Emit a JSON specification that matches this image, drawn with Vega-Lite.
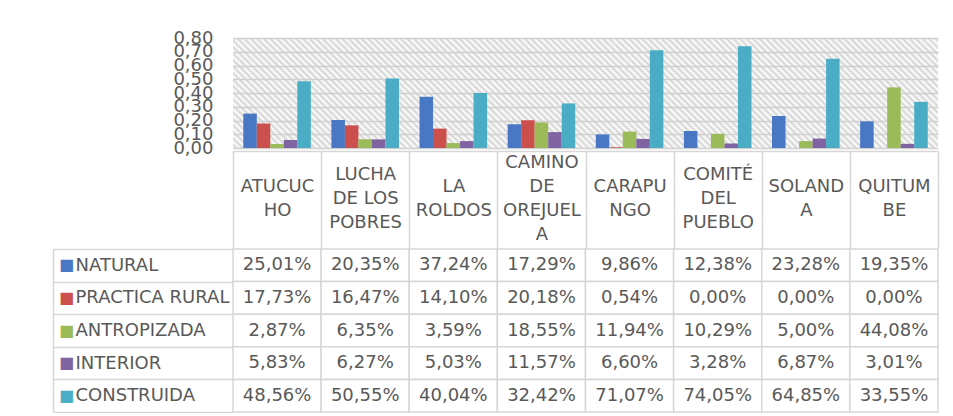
{
  "$schema": "https://vega.github.io/schema/vega-lite/v6.json",
  "background": "white",
  "padding": {"left": 52, "top": 29, "right": 5, "bottom": 0},
  "spacing": -9,
  "datasets": {
    "d": [
      {"category": "ATUCUCHO", "series": "NATURAL", "value": 0.2501},
      {"category": "LUCHA DE LOS POBRES", "series": "NATURAL", "value": 0.2035},
      {"category": "LA ROLDOS", "series": "NATURAL", "value": 0.3724},
      {"category": "CAMINO DE OREJUELA", "series": "NATURAL", "value": 0.1729},
      {"category": "CARAPUNGO", "series": "NATURAL", "value": 0.0986},
      {"category": "COMITÉ DEL PUEBLO", "series": "NATURAL", "value": 0.1238},
      {"category": "SOLANDA", "series": "NATURAL", "value": 0.2328},
      {"category": "QUITUMBE", "series": "NATURAL", "value": 0.1935},
      {"category": "ATUCUCHO", "series": "PRACTICA RURAL", "value": 0.1773},
      {"category": "LUCHA DE LOS POBRES", "series": "PRACTICA RURAL", "value": 0.1647},
      {"category": "LA ROLDOS", "series": "PRACTICA RURAL", "value": 0.1410},
      {"category": "CAMINO DE OREJUELA", "series": "PRACTICA RURAL", "value": 0.2018},
      {"category": "CARAPUNGO", "series": "PRACTICA RURAL", "value": 0.0054},
      {"category": "COMITÉ DEL PUEBLO", "series": "PRACTICA RURAL", "value": 0.0},
      {"category": "SOLANDA", "series": "PRACTICA RURAL", "value": 0.0},
      {"category": "QUITUMBE", "series": "PRACTICA RURAL", "value": 0.0},
      {"category": "ATUCUCHO", "series": "ANTROPIZADA", "value": 0.0287},
      {"category": "LUCHA DE LOS POBRES", "series": "ANTROPIZADA", "value": 0.0635},
      {"category": "LA ROLDOS", "series": "ANTROPIZADA", "value": 0.0359},
      {"category": "CAMINO DE OREJUELA", "series": "ANTROPIZADA", "value": 0.1855},
      {"category": "CARAPUNGO", "series": "ANTROPIZADA", "value": 0.1194},
      {"category": "COMITÉ DEL PUEBLO", "series": "ANTROPIZADA", "value": 0.1029},
      {"category": "SOLANDA", "series": "ANTROPIZADA", "value": 0.0500},
      {"category": "QUITUMBE", "series": "ANTROPIZADA", "value": 0.4408},
      {"category": "ATUCUCHO", "series": "INTERIOR", "value": 0.0583},
      {"category": "LUCHA DE LOS POBRES", "series": "INTERIOR", "value": 0.0627},
      {"category": "LA ROLDOS", "series": "INTERIOR", "value": 0.0503},
      {"category": "CAMINO DE OREJUELA", "series": "INTERIOR", "value": 0.1157},
      {"category": "CARAPUNGO", "series": "INTERIOR", "value": 0.0660},
      {"category": "COMITÉ DEL PUEBLO", "series": "INTERIOR", "value": 0.0328},
      {"category": "SOLANDA", "series": "INTERIOR", "value": 0.0687},
      {"category": "QUITUMBE", "series": "INTERIOR", "value": 0.0301},
      {"category": "ATUCUCHO", "series": "CONSTRUIDA", "value": 0.4856},
      {"category": "LUCHA DE LOS POBRES", "series": "CONSTRUIDA", "value": 0.5055},
      {"category": "LA ROLDOS", "series": "CONSTRUIDA", "value": 0.4004},
      {"category": "CAMINO DE OREJUELA", "series": "CONSTRUIDA", "value": 0.3242},
      {"category": "CARAPUNGO", "series": "CONSTRUIDA", "value": 0.7107},
      {"category": "COMITÉ DEL PUEBLO", "series": "CONSTRUIDA", "value": 0.7405},
      {"category": "SOLANDA", "series": "CONSTRUIDA", "value": 0.6485},
      {"category": "QUITUMBE", "series": "CONSTRUIDA", "value": 0.3355}
    ]
  },
  "vconcat": [
    {
      "width": 705,
      "height": 110,
      "data": {"name": "d"},
      "view": {
        "stroke": null,
        "fill": {
          "gradient": "linear", "x1": 0, "y1": 1, "x2": 1.1286, "y2": 0.8239,
          "stops": [
            {"offset":0,"color":"#fff"},{"offset":0.004,"color":"#d4d4d4"},{"offset":0.008,"color":"#fff"},{"offset":0.012,"color":"#d4d4d4"},{"offset":0.016,"color":"#fff"},{"offset":0.02,"color":"#d4d4d4"},{"offset":0.024,"color":"#fff"},{"offset":0.028,"color":"#d4d4d4"},{"offset":0.032,"color":"#fff"},{"offset":0.036,"color":"#d4d4d4"},
            {"offset":0.04,"color":"#fff"},{"offset":0.044,"color":"#d4d4d4"},{"offset":0.048,"color":"#fff"},{"offset":0.052,"color":"#d4d4d4"},{"offset":0.056,"color":"#fff"},{"offset":0.06,"color":"#d4d4d4"},{"offset":0.064,"color":"#fff"},{"offset":0.068,"color":"#d4d4d4"},{"offset":0.072,"color":"#fff"},{"offset":0.076,"color":"#d4d4d4"},
            {"offset":0.08,"color":"#fff"},{"offset":0.084,"color":"#d4d4d4"},{"offset":0.088,"color":"#fff"},{"offset":0.092,"color":"#d4d4d4"},{"offset":0.096,"color":"#fff"},{"offset":0.1,"color":"#d4d4d4"},{"offset":0.104,"color":"#fff"},{"offset":0.108,"color":"#d4d4d4"},{"offset":0.112,"color":"#fff"},{"offset":0.116,"color":"#d4d4d4"},
            {"offset":0.12,"color":"#fff"},{"offset":0.124,"color":"#d4d4d4"},{"offset":0.128,"color":"#fff"},{"offset":0.132,"color":"#d4d4d4"},{"offset":0.136,"color":"#fff"},{"offset":0.14,"color":"#d4d4d4"},{"offset":0.144,"color":"#fff"},{"offset":0.148,"color":"#d4d4d4"},{"offset":0.152,"color":"#fff"},{"offset":0.156,"color":"#d4d4d4"},
            {"offset":0.16,"color":"#fff"},{"offset":0.164,"color":"#d4d4d4"},{"offset":0.168,"color":"#fff"},{"offset":0.172,"color":"#d4d4d4"},{"offset":0.176,"color":"#fff"},{"offset":0.18,"color":"#d4d4d4"},{"offset":0.184,"color":"#fff"},{"offset":0.188,"color":"#d4d4d4"},{"offset":0.192,"color":"#fff"},{"offset":0.196,"color":"#d4d4d4"},
            {"offset":0.2,"color":"#fff"},{"offset":0.204,"color":"#d4d4d4"},{"offset":0.208,"color":"#fff"},{"offset":0.212,"color":"#d4d4d4"},{"offset":0.216,"color":"#fff"},{"offset":0.22,"color":"#d4d4d4"},{"offset":0.224,"color":"#fff"},{"offset":0.228,"color":"#d4d4d4"},{"offset":0.232,"color":"#fff"},{"offset":0.236,"color":"#d4d4d4"},
            {"offset":0.24,"color":"#fff"},{"offset":0.244,"color":"#d4d4d4"},{"offset":0.248,"color":"#fff"},{"offset":0.252,"color":"#d4d4d4"},{"offset":0.256,"color":"#fff"},{"offset":0.26,"color":"#d4d4d4"},{"offset":0.264,"color":"#fff"},{"offset":0.268,"color":"#d4d4d4"},{"offset":0.272,"color":"#fff"},{"offset":0.276,"color":"#d4d4d4"},
            {"offset":0.28,"color":"#fff"},{"offset":0.284,"color":"#d4d4d4"},{"offset":0.288,"color":"#fff"},{"offset":0.292,"color":"#d4d4d4"},{"offset":0.296,"color":"#fff"},{"offset":0.3,"color":"#d4d4d4"},{"offset":0.304,"color":"#fff"},{"offset":0.308,"color":"#d4d4d4"},{"offset":0.312,"color":"#fff"},{"offset":0.316,"color":"#d4d4d4"},
            {"offset":0.32,"color":"#fff"},{"offset":0.324,"color":"#d4d4d4"},{"offset":0.328,"color":"#fff"},{"offset":0.332,"color":"#d4d4d4"},{"offset":0.336,"color":"#fff"},{"offset":0.34,"color":"#d4d4d4"},{"offset":0.344,"color":"#fff"},{"offset":0.348,"color":"#d4d4d4"},{"offset":0.352,"color":"#fff"},{"offset":0.356,"color":"#d4d4d4"},
            {"offset":0.36,"color":"#fff"},{"offset":0.364,"color":"#d4d4d4"},{"offset":0.368,"color":"#fff"},{"offset":0.372,"color":"#d4d4d4"},{"offset":0.376,"color":"#fff"},{"offset":0.38,"color":"#d4d4d4"},{"offset":0.384,"color":"#fff"},{"offset":0.388,"color":"#d4d4d4"},{"offset":0.392,"color":"#fff"},{"offset":0.396,"color":"#d4d4d4"},
            {"offset":0.4,"color":"#fff"},{"offset":0.404,"color":"#d4d4d4"},{"offset":0.408,"color":"#fff"},{"offset":0.412,"color":"#d4d4d4"},{"offset":0.416,"color":"#fff"},{"offset":0.42,"color":"#d4d4d4"},{"offset":0.424,"color":"#fff"},{"offset":0.428,"color":"#d4d4d4"},{"offset":0.432,"color":"#fff"},{"offset":0.436,"color":"#d4d4d4"},
            {"offset":0.44,"color":"#fff"},{"offset":0.444,"color":"#d4d4d4"},{"offset":0.448,"color":"#fff"},{"offset":0.452,"color":"#d4d4d4"},{"offset":0.456,"color":"#fff"},{"offset":0.46,"color":"#d4d4d4"},{"offset":0.464,"color":"#fff"},{"offset":0.468,"color":"#d4d4d4"},{"offset":0.472,"color":"#fff"},{"offset":0.476,"color":"#d4d4d4"},
            {"offset":0.48,"color":"#fff"},{"offset":0.484,"color":"#d4d4d4"},{"offset":0.488,"color":"#fff"},{"offset":0.492,"color":"#d4d4d4"},{"offset":0.496,"color":"#fff"},{"offset":0.5,"color":"#d4d4d4"},{"offset":0.504,"color":"#fff"},{"offset":0.508,"color":"#d4d4d4"},{"offset":0.512,"color":"#fff"},{"offset":0.516,"color":"#d4d4d4"},
            {"offset":0.52,"color":"#fff"},{"offset":0.524,"color":"#d4d4d4"},{"offset":0.528,"color":"#fff"},{"offset":0.532,"color":"#d4d4d4"},{"offset":0.536,"color":"#fff"},{"offset":0.54,"color":"#d4d4d4"},{"offset":0.544,"color":"#fff"},{"offset":0.548,"color":"#d4d4d4"},{"offset":0.552,"color":"#fff"},{"offset":0.556,"color":"#d4d4d4"},
            {"offset":0.56,"color":"#fff"},{"offset":0.564,"color":"#d4d4d4"},{"offset":0.568,"color":"#fff"},{"offset":0.572,"color":"#d4d4d4"},{"offset":0.576,"color":"#fff"},{"offset":0.58,"color":"#d4d4d4"},{"offset":0.584,"color":"#fff"},{"offset":0.588,"color":"#d4d4d4"},{"offset":0.592,"color":"#fff"},{"offset":0.596,"color":"#d4d4d4"},
            {"offset":0.6,"color":"#fff"},{"offset":0.604,"color":"#d4d4d4"},{"offset":0.608,"color":"#fff"},{"offset":0.612,"color":"#d4d4d4"},{"offset":0.616,"color":"#fff"},{"offset":0.62,"color":"#d4d4d4"},{"offset":0.624,"color":"#fff"},{"offset":0.628,"color":"#d4d4d4"},{"offset":0.632,"color":"#fff"},{"offset":0.636,"color":"#d4d4d4"},
            {"offset":0.64,"color":"#fff"},{"offset":0.644,"color":"#d4d4d4"},{"offset":0.648,"color":"#fff"},{"offset":0.652,"color":"#d4d4d4"},{"offset":0.656,"color":"#fff"},{"offset":0.66,"color":"#d4d4d4"},{"offset":0.664,"color":"#fff"},{"offset":0.668,"color":"#d4d4d4"},{"offset":0.672,"color":"#fff"},{"offset":0.676,"color":"#d4d4d4"},
            {"offset":0.68,"color":"#fff"},{"offset":0.684,"color":"#d4d4d4"},{"offset":0.688,"color":"#fff"},{"offset":0.692,"color":"#d4d4d4"},{"offset":0.696,"color":"#fff"},{"offset":0.7,"color":"#d4d4d4"},{"offset":0.704,"color":"#fff"},{"offset":0.708,"color":"#d4d4d4"},{"offset":0.712,"color":"#fff"},{"offset":0.716,"color":"#d4d4d4"},
            {"offset":0.72,"color":"#fff"},{"offset":0.724,"color":"#d4d4d4"},{"offset":0.728,"color":"#fff"},{"offset":0.732,"color":"#d4d4d4"},{"offset":0.736,"color":"#fff"},{"offset":0.74,"color":"#d4d4d4"},{"offset":0.744,"color":"#fff"},{"offset":0.748,"color":"#d4d4d4"},{"offset":0.752,"color":"#fff"},{"offset":0.756,"color":"#d4d4d4"},
            {"offset":0.76,"color":"#fff"},{"offset":0.764,"color":"#d4d4d4"},{"offset":0.768,"color":"#fff"},{"offset":0.772,"color":"#d4d4d4"},{"offset":0.776,"color":"#fff"},{"offset":0.78,"color":"#d4d4d4"},{"offset":0.784,"color":"#fff"},{"offset":0.788,"color":"#d4d4d4"},{"offset":0.792,"color":"#fff"},{"offset":0.796,"color":"#d4d4d4"},
            {"offset":0.8,"color":"#fff"},{"offset":0.804,"color":"#d4d4d4"},{"offset":0.808,"color":"#fff"},{"offset":0.812,"color":"#d4d4d4"},{"offset":0.816,"color":"#fff"},{"offset":0.82,"color":"#d4d4d4"},{"offset":0.824,"color":"#fff"},{"offset":0.828,"color":"#d4d4d4"},{"offset":0.832,"color":"#fff"},{"offset":0.836,"color":"#d4d4d4"},
            {"offset":0.84,"color":"#fff"},{"offset":0.844,"color":"#d4d4d4"},{"offset":0.848,"color":"#fff"},{"offset":0.852,"color":"#d4d4d4"},{"offset":0.856,"color":"#fff"},{"offset":0.86,"color":"#d4d4d4"},{"offset":0.864,"color":"#fff"},{"offset":0.868,"color":"#d4d4d4"},{"offset":0.872,"color":"#fff"},{"offset":0.876,"color":"#d4d4d4"},
            {"offset":0.88,"color":"#fff"},{"offset":0.884,"color":"#d4d4d4"},{"offset":0.888,"color":"#fff"},{"offset":0.892,"color":"#d4d4d4"},{"offset":0.896,"color":"#fff"},{"offset":0.9,"color":"#d4d4d4"},{"offset":0.904,"color":"#fff"},{"offset":0.908,"color":"#d4d4d4"},{"offset":0.912,"color":"#fff"},{"offset":0.916,"color":"#d4d4d4"},
            {"offset":0.92,"color":"#fff"},{"offset":0.924,"color":"#d4d4d4"},{"offset":0.928,"color":"#fff"},{"offset":0.932,"color":"#d4d4d4"},{"offset":0.936,"color":"#fff"},{"offset":0.94,"color":"#d4d4d4"},{"offset":0.944,"color":"#fff"},{"offset":0.948,"color":"#d4d4d4"},{"offset":0.952,"color":"#fff"},{"offset":0.956,"color":"#d4d4d4"},
            {"offset":0.96,"color":"#fff"},{"offset":0.964,"color":"#d4d4d4"},{"offset":0.968,"color":"#fff"},{"offset":0.972,"color":"#d4d4d4"},{"offset":0.976,"color":"#fff"},{"offset":0.98,"color":"#d4d4d4"},{"offset":0.984,"color":"#fff"},{"offset":0.988,"color":"#d4d4d4"},{"offset":0.992,"color":"#fff"},{"offset":0.996,"color":"#d4d4d4"},
            {"offset":1,"color":"#fff"}
          ]
        }
      },
      "mark": {"type": "bar"},
      "encoding": {
        "x": {
          "field": "category", "type": "nominal",
          "sort": ["ATUCUCHO", "LUCHA DE LOS POBRES", "LA ROLDOS", "CAMINO DE OREJUELA", "CARAPUNGO", "COMITÉ DEL PUEBLO", "SOLANDA", "QUITUMBE"],
          "scale": {"paddingInner": 0, "paddingOuter": 0},
          "axis": {
            "title": null, "orient": "bottom", "offset": 3,
            "domain": true, "domainColor": "#d6d6d6", "domainWidth": 1.5,
            "ticks": true, "tickBand": "extent", "tickSize": 97, "tickColor": "#d6d6d6", "tickWidth": 1.5,
            "labelAngle": 0, "labelPadding": -74, "labelAlign": "center",
            "labelBaseline": {"expr": "datum.value == 'CAMINO DE OREJUELA' ? 'line-bottom' : (datum.value == 'LUCHA DE LOS POBRES' || datum.value == 'COMITÉ DEL PUEBLO') ? 'middle' : 'line-top'"},
            "labelFont": "DejaVu Sans", "labelFontSize": 18, "labelColor": "#595959", "labelLineHeight": 24, "labelLimit": 0,
            "labelExpr": "datum.value == 'ATUCUCHO' ? ['ATUCUC','HO'] : datum.value == 'LUCHA DE LOS POBRES' ? ['LUCHA','DE LOS','POBRES'] : datum.value == 'LA ROLDOS' ? ['LA','ROLDOS'] : datum.value == 'CAMINO DE OREJUELA' ? ['CAMINO','DE','OREJUEL','A'] : datum.value == 'CARAPUNGO' ? ['CARAPU','NGO'] : datum.value == 'COMITÉ DEL PUEBLO' ? ['COMITÉ','DEL','PUEBLO'] : datum.value == 'SOLANDA' ? ['SOLAND','A'] : datum.value == 'QUITUMBE' ? ['QUITUM','BE'] : ''"
          }
        },
        "xOffset": {
          "field": "series", "type": "nominal",
          "sort": ["NATURAL", "PRACTICA RURAL", "ANTROPIZADA", "INTERIOR", "CONSTRUIDA"],
          "scale": {"paddingInner": 0, "paddingOuter": 0.76}
        },
        "y": {
          "field": "value", "type": "quantitative",
          "scale": {"domain": [0, 0.8], "nice": false},
          "axis": {
            "title": null, "values": [0, 0.1, 0.2, 0.3, 0.4, 0.5, 0.6, 0.7, 0.8], "format": ".2f",
            "labelOverlap": false, "labelFlush": false, "domain": false, "ticks": false, "labelPadding": 20,
            "grid": true, "gridColor": "#d0d0d0", "gridWidth": 1.5,
            "labelFont": "DejaVu Sans", "labelFontSize": 18, "labelColor": "#595959"
          }
        },
        "color": {
          "field": "series", "type": "nominal",
          "sort": ["NATURAL", "PRACTICA RURAL", "ANTROPIZADA", "INTERIOR", "CONSTRUIDA"],
          "scale": {"range": ["#4878C4", "#CB4F4C", "#9BBB59", "#8064A2", "#4BACC6"]},
          "legend": null
        }
      }
    },
    {
      "width": 705,
      "height": 163,
      "data": {"name": "d"},
      "view": {"stroke": null},
      "encoding": {
        "x": {
          "field": "category", "type": "nominal",
          "sort": ["ATUCUCHO", "LUCHA DE LOS POBRES", "LA ROLDOS", "CAMINO DE OREJUELA", "CARAPUNGO", "COMITÉ DEL PUEBLO", "SOLANDA", "QUITUMBE"],
          "scale": {"paddingInner": 0, "paddingOuter": 0},
          "axis": null
        }
      },
      "layer": [
        {
          "mark": {"type": "rect", "fill": "#ffffff", "stroke": "#d6d6d6", "strokeWidth": 1.5},
          "encoding": {
            "y": {
              "field": "series", "type": "nominal",
              "sort": ["NATURAL", "PRACTICA RURAL", "ANTROPIZADA", "INTERIOR", "CONSTRUIDA"],
              "scale": {"paddingInner": 0, "paddingOuter": 0},
              "axis": {
                "title": null, "orient": "left", "domain": false,
                "ticks": true, "tickBand": "extent", "tickSize": 180, "tickColor": "#d6d6d6", "tickWidth": 1.5,
                "labelAlign": "left", "labelBaseline": "middle", "labelPadding": -22,
                "labelFont": "DejaVu Sans", "labelFontSize": 18, "labelColor": "#595959", "labelLimit": 0
              }
            }
          }
        },
        {
          "mark": {"type": "text", "font": "DejaVu Sans", "fontSize": 18, "fill": "#595959", "baseline": "middle", "align": "center"},
          "encoding": {
            "y": {
              "field": "series", "type": "nominal",
              "sort": ["NATURAL", "PRACTICA RURAL", "ANTROPIZADA", "INTERIOR", "CONSTRUIDA"],
              "axis": {
                "title": null, "orient": "left", "offset": 180,
                "domain": true, "domainColor": "#d6d6d6", "domainWidth": 1.5, "ticks": false,
                "labelExpr": "'■'", "labelAlign": "center", "labelBaseline": "middle", "labelPadding": -13,
                "labelFont": "DejaVu Sans", "labelFontSize": 16,
                "labelColor": {"expr": "datum.value == 'NATURAL' ? '#4878C4' : datum.value == 'PRACTICA RURAL' ? '#CB4F4C' : datum.value == 'ANTROPIZADA' ? '#9BBB59' : datum.value == 'INTERIOR' ? '#8064A2' : '#4BACC6'"}
              }
            },
            "text": {"field": "value", "type": "quantitative", "format": ".2%"}
          }
        }
      ],
      "resolve": {"axis": {"y": "independent"}}
    }
  ],
  "config": {
    "locale": {"number": {"decimal": ",", "thousands": ".", "grouping": [3], "currency": ["", " €"]}},
    "view": {"stroke": null},
    "axis": {"labelFont": "DejaVu Sans"}
  }
}
